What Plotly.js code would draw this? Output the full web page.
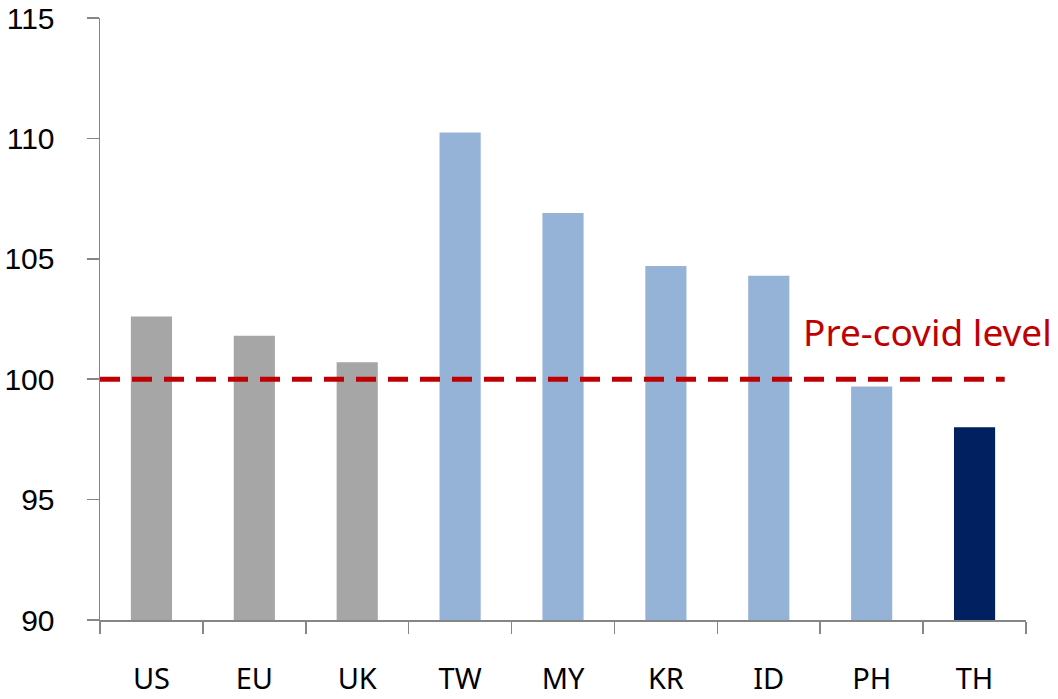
<!DOCTYPE html>
<html>
<head>
<meta charset="utf-8">
<script src="https://cdn.plot.ly/plotly-3.0.1.min.js"></script>
<style>html,body{margin:0;padding:0;background:#fff;}#chart{width:1058px;height:699px;}</style>
</head>
<body>
<div id="chart"></div>
<script>
const categories = ["US", "EU", "UK", "TW", "MY", "KR", "ID", "PH", "TH"];
const values = [102.6, 101.8, 100.7, 110.25, 106.9, 104.7, 104.3, 99.7, 98.0];
const barColors = ["#a6a6a6", "#a6a6a6", "#a6a6a6", "#95b3d7", "#95b3d7", "#95b3d7", "#95b3d7", "#95b3d7", "#002060"];
const preCovidLevel = 100;
const preCovidLabel = "Pre-covid level";
const yTicks = [90, 95, 100, 105, 110, 115];

const FONT = "Noto Sans, DejaVu Sans, sans-serif";
const TICKFONT = "Liberation Sans, Arial, sans-serif";

const trace = {
  type: "bar",
  x: categories,
  y: values.map(v => v - 90),
  base: 90,
  marker: {color: barColors, line: {width: 0}},
  width: 0.4,
  hoverinfo: "x+y"
};

const layout = {
  width: 1058,
  height: 699,
  margin: {l: 100, r: 32, t: 18, b: 79},
  paper_bgcolor: "#ffffff",
  plot_bgcolor: "#ffffff",
  showlegend: false,
  font: {family: FONT, color: "#000000"},
  xaxis: {
    type: "category",
    showline: true,
    linecolor: "#868686",
    linewidth: 1.5,
    ticks: "outside",
    tickson: "boundaries",
    ticklen: 12,
    tickwidth: 1.5,
    tickcolor: "#868686",
    showgrid: false,
    zeroline: false,
    tickfont: {family: FONT, size: 29, color: "#000"},
    ticklabelstandoff: 33
  },
  yaxis: {
    range: [89.9999, 115.0001],
    tickvals: yTicks,
    ticktext: yTicks.map(String),
    showline: true,
    linecolor: "#868686",
    linewidth: 1.5,
    ticks: "outside",
    ticklen: 12,
    tickwidth: 1.5,
    tickcolor: "#868686",
    showgrid: false,
    zeroline: false,
    tickfont: {family: TICKFONT, size: 30, color: "#000"},
    ticklabelstandoff: 26,
    ticklabeloverflow: "allow"
  },
  shapes: [{
    type: "line",
    xref: "paper", yref: "y",
    x0: 0, x1: 0.977,
    y0: preCovidLevel, y1: preCovidLevel,
    line: {color: "#c00000", width: 5, dash: "20px,12px"},
    layer: "above"
  }],
  annotations: [{
    xref: "paper", yref: "y",
    x: 1.030, y: 101.97,
    xanchor: "right", yanchor: "middle",
    text: preCovidLabel,
    showarrow: false,
    font: {family: FONT, size: 37, color: "#c00000"}
  }]
};

Plotly.newPlot("chart", [trace], layout, {displayModeBar: false, staticPlot: true});
</script>
</body>
</html>
